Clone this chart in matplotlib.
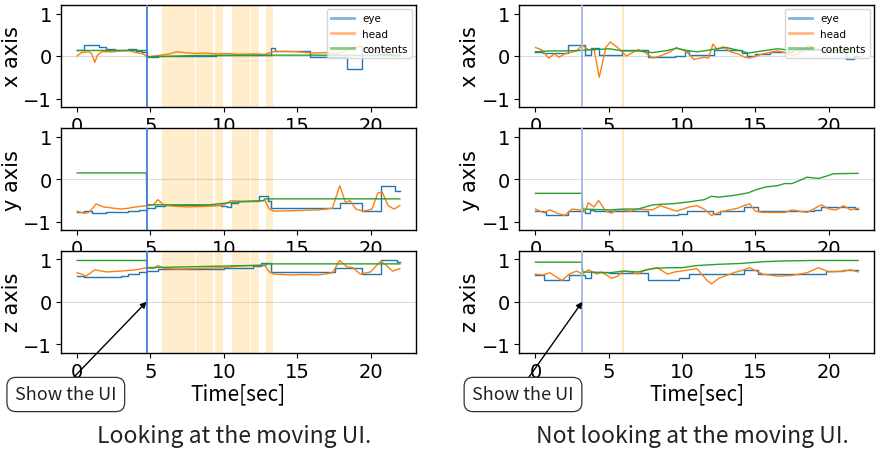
import matplotlib
matplotlib.use("Agg")
import matplotlib.pyplot as plt
from matplotlib.lines import Line2D

plt.rcParams["font.family"] = ["DejaVu Sans"]
JP = ["Noto Sans CJK JP", "DejaVu Sans"]

C_EYE = "#1f77b4"
C_HEAD = "#ff7f0e"
C_CONT = "#2ca02c"

XTICKS = [0, 5, 10, 15, 20]
YTICKS = [-1, 0, 1]
AXIS_NAMES = ["x axis", "y axis", "z axis"]
SERIES_NAMES = ["eye", "head", "contents"]
CAPTIONS = ["Looking at the moving UI.", "Not looking at the moving UI."]
XLABEL = "Time[sec]"
NOTE = "Show the UI"

# moment the UI appears (sec)
show_left = 4.74
show_right = 3.2

# gaze-on-UI intervals (sec)
gaze_left_start = [5.77, 8.10, 9.38, 10.54, 11.87, 12.88]
gaze_left_end = [8.04, 9.26, 9.97, 11.79, 12.38, 13.33]
gaze_right_start = [5.87]
gaze_right_end = [6.03]

# ---------------- looking at the moving UI ----------------
# x component
Lx_eye_t = [0, 0.45, 1.5, 2.0, 2.6, 3.5, 4.0, 4.45, 4.74, 5.5, 6.0, 9.5, 10.3, 12.5,
            13.2, 13.5, 15.9, 18.4, 19.4, 19.8, 20.5, 21.5, 22]
Lx_eye_v = [0.13, 0.26, 0.22, 0.16, 0.14, 0.17, 0.12, 0.1, -0.02, 0.01, 0.0, 0.03, 0.02, 0.02,
            0.2, 0.12, -0.02, -0.3, 0.18, 0.1, 0.05, 0.03, 0.03]
Lx_head_t = [0, 0.3, 0.8, 1.0, 1.2, 1.4, 1.7, 2.5, 3.0, 3.5, 4.0, 4.5, 4.75, 5.2, 5.7, 6.3,
             6.8, 7.3, 8.0, 8.7, 9.5, 10.2, 11.0, 12.0, 12.8, 13.3, 14.0, 15.0, 16.0, 17.0,
             17.6, 18.2, 18.8, 19.3, 20.0, 20.7, 21.3, 22.0]
Lx_head_v = [0.0, 0.08, 0.1, 0.05, -0.15, 0.03, 0.1, 0.1, 0.12, 0.13, 0.08, 0.05, -0.02, 0.0,
             0.02, 0.05, 0.1, 0.08, 0.06, 0.07, 0.05, 0.06, 0.04, 0.05, 0.04, 0.1, 0.11, 0.1,
             0.07, 0.08, 0.04, 0.1, 0.2, 0.22, 0.15, 0.18, 0.1, 0.08]
Lx_cont_t = [0, 4.72, 4.76, 8.0, 12.0, 16.0, 22.0]
Lx_cont_v = [0.13, 0.13, -0.02, 0.01, 0.02, 0.02, 0.01]

# y component
Ly_eye_t = [0, 0.5, 1.0, 2.0, 3.5, 4.2, 4.74, 5.3, 6.0, 9.8, 10.2, 10.5, 11.0, 12.4, 13.0,
            13.2, 17.9, 19.4, 20.7, 21.7, 22]
Ly_eye_v = [-0.78, -0.75, -0.8, -0.78, -0.75, -0.72, -0.67, -0.62, -0.6, -0.62, -0.65, -0.55,
            -0.52, -0.4, -0.5, -0.67, -0.55, -0.75, -0.15, -0.27, -0.27]
Ly_head_t = [0, 0.5, 0.8, 1.3, 1.8, 2.5, 3.0, 3.5, 4.0, 4.74, 5.2, 5.5, 5.9, 6.5, 7.5, 8.5,
             9.5, 10.0, 10.5, 11.2, 12.0, 12.8, 13.1, 13.4, 14.5, 15.5, 16.5, 17.4, 17.9,
             18.3, 18.6, 19.0, 19.5, 20.1, 20.5, 20.8, 21.2, 21.6, 22.0]
Ly_head_v = [-0.75, -0.8, -0.78, -0.58, -0.65, -0.68, -0.7, -0.68, -0.65, -0.62, -0.6, -0.48,
             -0.6, -0.63, -0.65, -0.64, -0.62, -0.6, -0.5, -0.52, -0.52, -0.5, -0.7, -0.75,
             -0.74, -0.73, -0.72, -0.68, -0.15, -0.55, -0.5, -0.7, -0.75, -0.7, -0.32, -0.3,
             -0.62, -0.7, -0.62]
Ly_cont_t = [0, 4.72, 4.76, 9.0, 11.0, 12.7, 12.8, 22]
Ly_cont_v = [0.15, 0.15, -0.6, -0.6, -0.53, -0.5, -0.46, -0.46]

# z component
Lz_eye_t = [0, 0.5, 1.5, 3.0, 3.5, 4.2, 4.74, 5.5, 6.0, 10.0, 12.0, 12.5, 13.2, 17.6, 19.4,
            20.7, 21.8, 22]
Lz_eye_v = [0.6, 0.57, 0.58, 0.6, 0.65, 0.7, 0.73, 0.77, 0.78, 0.8, 0.85, 0.92, 0.7, 0.8,
            0.65, 0.97, 0.94, 0.94]
Lz_head_t = [0, 0.3, 0.6, 1.2, 2.0, 3.0, 4.0, 4.74, 5.2, 5.5, 6.0, 7.0, 8.0, 9.0, 10.0, 11.0,
             12.0, 12.8, 13.1, 13.4, 14.5, 15.5, 16.5, 17.4, 17.9, 18.4, 18.8, 19.3, 20.0,
             20.4, 20.7, 21.1, 21.5, 22.0]
Lz_head_v = [0.68, 0.65, 0.6, 0.75, 0.7, 0.72, 0.75, 0.8, 0.78, 0.85, 0.78, 0.77, 0.78, 0.79,
             0.8, 0.84, 0.85, 0.85, 0.7, 0.65, 0.63, 0.64, 0.63, 0.68, 0.97, 0.82, 0.8, 0.65,
             0.7, 0.85, 0.95, 0.85, 0.72, 0.78]
Lz_cont_t = [0, 4.72, 4.76, 12.8, 13.0, 22]
Lz_cont_v = [0.97, 0.97, 0.8, 0.86, 0.89, 0.89]

# ---------------- not looking at the moving UI ----------------
# x component
Rx_eye_t = [0, 0.5, 2.2, 3.4, 3.8, 4.3, 5.9, 7.7, 9.5, 10.2, 10.5, 12.2, 14.1, 14.4, 15.0,
            16.0, 17.5, 20.0, 21.2, 21.7, 22]
Rx_eye_v = [0.1, 0.08, 0.25, 0.02, 0.2, 0.02, 0.15, -0.03, 0.0, 0.12, 0.02, 0.15, 0.08, 0.0,
            0.05, 0.1, 0.15, 0.1, -0.07, 0.0, 0.0]
Rx_head_t = [0, 0.4, 0.9, 1.3, 1.6, 2.0, 2.8, 3.2, 3.6, 4.0, 4.35, 4.8, 5.1, 5.6, 6.2, 7.0,
             7.5, 8.0, 8.5, 9.2, 9.6, 10.3, 10.8, 11.5, 11.8, 12.1, 12.4, 12.8, 13.3, 13.8,
             14.3, 14.6, 15.5, 16.5, 17.0, 17.5, 18.2, 18.6, 19.3, 20.0, 21.0, 22.0]
Rx_head_v = [0.2, 0.15, -0.05, 0.05, -0.03, 0.05, 0.12, 0.25, 0.15, 0.15, -0.5, 0.2, 0.33,
             0.2, 0.0, 0.15, 0.08, -0.05, 0.0, 0.1, 0.2, 0.1, -0.08, -0.03, -0.05, 0.28, 0.15,
             0.22, 0.1, 0.05, -0.03, -0.05, 0.05, 0.12, 0.08, 0.0, 0.1, 0.25, 0.15, 0.12,
             0.18, 0.1]
Rx_cont_t = [0, 1, 2, 3, 4, 5, 6, 7, 8, 9, 9.6, 10.5, 11, 11.5, 12.5, 13, 14, 14.5, 15.5,
             16.5, 17.5, 18.5, 19.5, 20.5, 22]
Rx_cont_v = [0.1, 0.12, 0.12, 0.13, 0.15, 0.17, 0.12, 0.12, 0.08, 0.13, 0.18, 0.12, 0.1,
             0.12, 0.18, 0.2, 0.12, 0.07, 0.12, 0.17, 0.13, 0.17, 0.15, 0.13, 0.12]

# y component
Ry_eye_t = [0, 0.5, 0.7, 2.2, 3.4, 3.7, 4.0, 5.0, 7.7, 9.7, 10.3, 12.1, 12.6, 14.2, 15.2,
            18.0, 19.0, 19.5, 21.8, 22]
Ry_eye_v = [-0.75, -0.77, -0.85, -0.75, -0.8, -0.72, -0.75, -0.75, -0.85, -0.82, -0.75,
            -0.82, -0.75, -0.65, -0.75, -0.75, -0.72, -0.65, -0.7, -0.7]
Ry_head_t = [0, 0.5, 1.0, 1.5, 2.0, 2.5, 3.0, 3.4, 3.6, 4.0, 4.3, 4.8, 5.2, 5.5, 6.0, 6.5,
             7.0, 8.0, 8.5, 9.2, 9.6, 10.5, 11.0, 11.5, 12.0, 12.5, 13.2, 13.8, 14.2, 14.6,
             15.0, 15.5, 17.0, 17.5, 18.5, 19.5, 20.0, 20.5, 21.0, 21.5, 22.0]
Ry_head_v = [-0.7, -0.78, -0.72, -0.8, -0.85, -0.7, -0.72, -0.75, -0.55, -0.65, -0.5, -0.75,
             -0.8, -0.72, -0.72, -0.75, -0.7, -0.72, -0.62, -0.7, -0.75, -0.65, -0.62, -0.7,
             -0.85, -0.78, -0.72, -0.68, -0.62, -0.58, -0.75, -0.78, -0.78, -0.72, -0.78,
             -0.6, -0.7, -0.72, -0.62, -0.72, -0.68]
Ry_cont_t = [0, 3.18, 3.22, 5, 6, 7, 7.5, 8, 9.5, 10.5, 11.5, 12, 12.5, 13.5, 14.5, 15,
             15.7, 16.5, 17, 17.5, 18.2, 18.5, 19.3, 19.8, 20.3, 22]
Ry_cont_v = [-0.33, -0.33, -0.7, -0.72, -0.7, -0.7, -0.65, -0.6, -0.57, -0.53, -0.48, -0.4,
             -0.42, -0.38, -0.32, -0.25, -0.18, -0.15, -0.1, -0.1, 0.0, 0.05, 0.02, 0.07,
             0.13, 0.14]

# z component
Rz_eye_t = [0, 0.6, 2.3, 3.4, 3.8, 5.0, 7.7, 9.8, 10.5, 14.2, 15.2, 19.8, 21.0, 22]
Rz_eye_v = [0.62, 0.5, 0.62, 0.55, 0.7, 0.68, 0.5, 0.55, 0.65, 0.75, 0.65, 0.72, 0.75, 0.75]
Rz_head_t = [0, 0.5, 1.0, 1.8, 2.3, 2.8, 3.2, 3.6, 4.2, 4.5, 5.2, 5.6, 6.0, 6.5, 7.0, 7.5,
             8.3, 9.0, 9.5, 10.5, 11.0, 11.7, 12.0, 12.5, 13.5, 14.2, 14.6, 15.5, 16.5,
             17.5, 18.5, 19.3, 20.0, 21.0, 21.5, 22.0]
Rz_head_v = [0.65, 0.63, 0.68, 0.5, 0.65, 0.72, 0.65, 0.75, 0.65, 0.7, 0.55, 0.6, 0.72, 0.7,
             0.65, 0.75, 0.8, 0.65, 0.7, 0.75, 0.78, 0.5, 0.42, 0.55, 0.68, 0.75, 0.8, 0.65,
             0.6, 0.62, 0.68, 0.8, 0.7, 0.72, 0.75, 0.7]
Rz_cont_t = [0, 3.18, 3.22, 5, 6, 7, 8, 9, 10, 11, 12.5, 14, 15.5, 17, 19, 22]
Rz_cont_v = [0.93, 0.93, 0.7, 0.68, 0.72, 0.7, 0.78, 0.8, 0.8, 0.85, 0.88, 0.9, 0.94, 0.96,
             0.97, 0.97]

left_panels = [
    (Lx_eye_t, Lx_eye_v, Lx_head_t, Lx_head_v, Lx_cont_t, Lx_cont_v),
    (Ly_eye_t, Ly_eye_v, Ly_head_t, Ly_head_v, Ly_cont_t, Ly_cont_v),
    (Lz_eye_t, Lz_eye_v, Lz_head_t, Lz_head_v, Lz_cont_t, Lz_cont_v),
]
right_panels = [
    (Rx_eye_t, Rx_eye_v, Rx_head_t, Rx_head_v, Rx_cont_t, Rx_cont_v),
    (Ry_eye_t, Ry_eye_v, Ry_head_t, Ry_head_v, Ry_cont_t, Ry_cont_v),
    (Rz_eye_t, Rz_eye_v, Rz_head_t, Rz_head_v, Rz_cont_t, Rz_cont_v),
]

W, H = 878, 452
fig = plt.figure(figsize=(W / 100, H / 100), dpi=100)
fig.patch.set_facecolor("white")

AX_W = 355 / W
AX_H = 102 / H
ROW_TOP_PX = [6, 129.3, 251.7]


def draw_column(left_px, panels, show_t, g_start, g_end, vcolor, span_alpha):
    axes = []
    for row, (et, ev, ht, hv, ct, cv) in enumerate(panels):
        bottom = 1 - (ROW_TOP_PX[row] + 102) / H
        ax = fig.add_axes([left_px / W, bottom, AX_W, AX_H])
        ax.set_facecolor("white")
        ax.axhline(0, color="#dcdcdc", lw=0.8, zorder=0.5)
        for s, e in zip(g_start, g_end):
            ax.axvspan(s, e, color="orange", alpha=span_alpha, lw=0, zorder=0.8)
        ax.plot(et, ev, color=C_EYE, lw=1.0, drawstyle="steps-post")
        ax.plot(ht, hv, color=C_HEAD, lw=1.0)
        ax.plot(ct, cv, color=C_CONT, lw=1.0)
        ax.axvline(show_t, color=vcolor, lw=1.3, zorder=3)
        ax.set_xlim(-1.1, 23.1)
        ax.set_ylim(-1.2, 1.2)
        ax.set_xticks(XTICKS)
        ax.set_yticks(YTICKS)
        ax.tick_params(labelsize=14, length=3.5, width=0.8, pad=3.0)
        ax.set_ylabel(AXIS_NAMES[row], fontsize=15, labelpad=1)
        for sp in ax.spines.values():
            sp.set_linewidth(1.0)
        if row == 0:
            handles = [Line2D([], [], color=c, lw=2, alpha=0.55)
                       for c in (C_EYE, C_HEAD, C_CONT)]
            ax.legend(handles, SERIES_NAMES, loc="upper right", fontsize=7.5,
                      framealpha=0.8, borderaxespad=0.4, handlelength=2.2)
        axes.append(ax)
    axes[-1].set_xlabel(XLABEL, fontsize=15, family=JP, labelpad=1)
    return axes


axL = draw_column(61, left_panels, show_left, gaze_left_start, gaze_left_end,
                  "#4a7bd5", 0.2)
axR = draw_column(519.3, right_panels, show_right, gaze_right_start, gaze_right_end,
                  "#a2b8e8", 0.25)

box = dict(boxstyle="round,pad=0.45,rounding_size=0.5", fc="white", ec="#333333", lw=0.9)
arrow = dict(arrowstyle="-|>", color="black", lw=1.0, mutation_scale=9,
             shrinkA=0, shrinkB=0, relpos=(0.5, 1.0))
axL[-1].annotate(NOTE, xy=(show_left, 0), xytext=(65.8 / W, 1 - 395.5 / H),
                 textcoords="figure fraction", ha="center", va="center", fontsize=13,
                 family=JP, bbox=box, arrowprops=arrow, annotation_clip=False, color="#222222")
axR[-1].annotate(NOTE, xy=(show_right, 0), xytext=(523 / W, 1 - 395.5 / H),
                 textcoords="figure fraction", ha="center", va="center", fontsize=13,
                 family=JP, bbox=box, arrowprops=arrow, annotation_clip=False, color="#222222")

fig.text(233.8 / W, 1 - 437 / H, CAPTIONS[0], ha="center", va="center", fontsize=16.5,
         family=JP, color="#222222")
fig.text(692 / W, 1 - 437 / H, CAPTIONS[1], ha="center", va="center", fontsize=16.5,
         family=JP, color="#222222")

fig.savefig("out.png", dpi=100, facecolor="white")
